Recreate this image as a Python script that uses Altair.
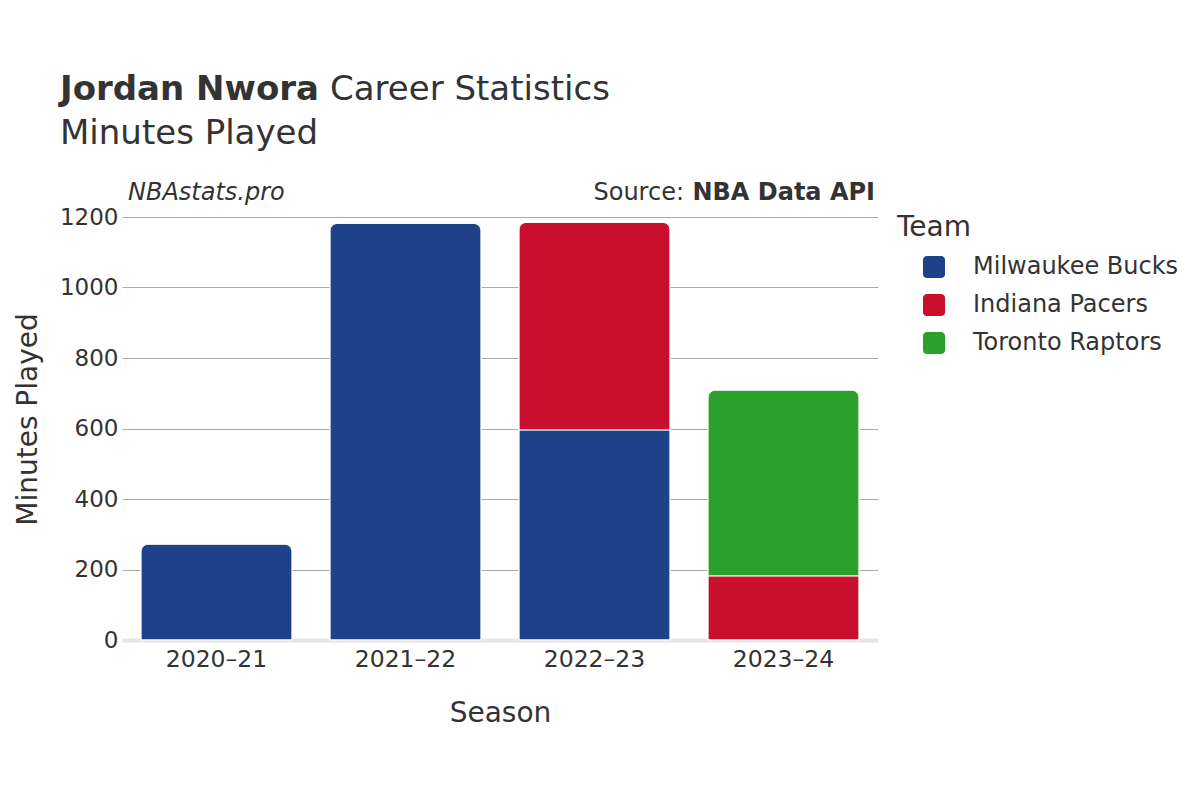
import altair as alt
import pandas as pd

# ---- data ----
seasons = ["2020–21", "2021–22", "2022–23", "2022–23", "2023–24", "2023–24"]
teams = ["Milwaukee Bucks", "Milwaukee Bucks", "Milwaukee Bucks",
         "Indiana Pacers", "Indiana Pacers", "Toronto Raptors"]
minutes = [272, 1182, 596, 589, 182, 527]
stack_order = [0, 0, 0, 1, 1, 2]

season_labels = ["2020–21", "2021–22", "2022–23", "2023–24"]
team_names = ["Milwaukee Bucks", "Indiana Pacers", "Toronto Raptors"]
team_colors = ["#1d428a", "#c8102e", "#2ca02c"]
y_ticks = [0, 200, 400, 600, 800, 1000, 1200]

title_bold = "Jordan Nwora"
title_rest = "Career Statistics"
subtitle = "Minutes Played"
site_text = "NBAstats.pro"
source_label = "Source:"
source_bold = "NBA Data API"

FONT = "DejaVu Sans"
TXT = "#333333"

df = pd.DataFrame({"season": seasons, "team": teams, "minutes": minutes, "order": stack_order})

rounded_square = ("M-0.65,-1 H0.65 A0.35,0.35 0 0 1 1,-0.65 V0.65 A0.35,0.35 0 0 1 0.65,1 "
                  "H-0.65 A0.35,0.35 0 0 1 -1,0.65 V-0.65 A0.35,0.35 0 0 1 -0.65,-1 Z")

bars = alt.Chart(df).mark_bar(cornerRadiusEnd=8, stroke="white", strokeWidth=1).encode(
    x=alt.X("season:N", sort=season_labels,
            scale=alt.Scale(paddingInner=0.2, paddingOuter=0.1),
            axis=alt.Axis(title="Season", labelAngle=0, ticks=False, grid=False,
                          domain=True, domainColor="#e6e6e6", domainWidth=4,
                          labelPadding=7, labelFontSize=23.5, labelColor=TXT,
                          titleFontSize=28, titleFontWeight="normal", titleColor=TXT,
                          titlePadding=29)),
    y=alt.Y("minutes:Q", stack="zero",
            scale=alt.Scale(domain=[0, 1200], nice=False),
            axis=alt.Axis(title="Minutes Played", values=y_ticks, format="d",
                          ticks=False, domain=False, grid=True,
                          gridColor={"condition": {"test": "datum.value === 0", "value": "rgba(0,0,0,0)"},
                                     "value": "#aaaaaa"},
                          labelPadding=4, labelFontSize=23, labelColor=TXT,
                          titleFontSize=28, titleFontWeight="normal", titleColor=TXT,
                          titleY=202, titlePadding=17)),
    color=alt.Color("team:N", scale=alt.Scale(domain=team_names, range=team_colors),
                    legend=alt.Legend(title="Team", orient="none", legendX=775, legendY=-3,
                                      titleFontSize=28, titleFontWeight="normal", titleColor=TXT,
                                      labelFontSize=24, labelColor=TXT, labelLimit=400,
                                      symbolType=rounded_square, symbolSize=484,
                                      symbolStrokeWidth=0, symbolOpacity=1,
                                      symbolOffset=25, labelOffset=27,
                                      rowPadding=14, titlePadding=13)),
    order=alt.Order("order:Q", sort="ascending"),
)


def text_layer(s, x, y, size, weight="normal", style="normal", align="left"):
    return alt.Chart(pd.DataFrame({"t": [s]})).mark_text(
        align=align, baseline="alphabetic", fontSize=size, fontWeight=weight,
        fontStyle=style, font=FONT, color=TXT
    ).encode(text="t:N", x=alt.value(x), y=alt.value(y))


layers = [
    bars,
    text_layer(title_bold, -62, -117, 34, weight="bold"),
    text_layer(title_rest, 208, -117, 34),
    text_layer(subtitle, -62, -73, 34),
    text_layer(site_text, 6, -17, 24, style="italic"),
    text_layer(source_bold, 753, -17, 24, weight="bold", align="right"),
    text_layer(source_label, 562, -17, 24, align="right"),
]

chart = alt.layer(*layers).properties(
    width=756, height=423,
    autosize=alt.AutoSizeParams(type="none"),
    padding={"left": 114, "top": 209, "right": 314, "bottom": 152},
).configure(font=FONT).configure_view(stroke=None)

chart.save("out.html", embed_options={"renderer": "svg", "actions": False})
